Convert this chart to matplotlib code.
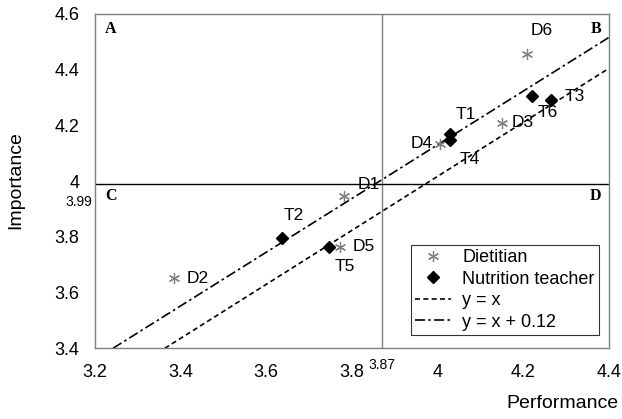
import matplotlib.pyplot as plt

plt.rcParams['font.family'] = ['Liberation Sans', 'DejaVu Sans']

# Dietitian ratings (performance, importance)
diet_labels = ['D1', 'D2', 'D3', 'D4', 'D5', 'D6']
diet_perf = [3.782, 3.385, 4.151, 4.005, 3.772, 4.208]
diet_imp = [3.948, 3.652, 4.210, 4.135, 3.764, 4.456]

# Nutrition teacher ratings
teach_labels = ['T1', 'T2', 'T3', 'T4', 'T5', 'T6']
teach_perf = [4.030, 3.636, 4.264, 4.030, 3.747, 4.221]
teach_imp = [4.171, 3.796, 4.293, 4.146, 3.764, 4.305]

# reference lines as drawn in the original (end points)
line_x_x = [3.363, 4.4]
line_x_y = [3.4, 4.405]
line_c_x = [3.242, 4.4]
line_c_y = [3.4, 4.516]

mean_perf = 3.87
mean_imp = 3.99

# label offsets in points
diet_off = {'D1': (18, 8), 'D2': (17, 0), 'D3': (15, 0), 'D4': (-13, 0),
            'D5': (17, 0), 'D6': (11, 17)}
teach_off = {'T1': (11, 14), 'T2': (9, 16), 'T3': (17, 2), 'T4': (14, -14),
             'T5': (11, -14), 'T6': (11, -12)}

fig = plt.figure(figsize=(6.22, 4.19), dpi=100)
ax = fig.add_axes([0.1527, 0.1687, 0.8263, 0.7979])

ax.axvline(mean_perf, color='#808080', lw=1.0, zorder=1)
ax.axhline(mean_imp, color='black', lw=1.0, zorder=1)

ax.plot(line_x_x, line_x_y, color='black', ls=(0, (3, 2)), lw=1.2, label='y = x')
ax.plot(line_c_x, line_c_y, color='black', ls=(0, (6, 2, 1.5, 2)), lw=1.2,
        label='y = x + 0.12')

d = ax.plot(diet_perf, diet_imp, ls='none', marker=(6, 2, 0), ms=8, mew=0.9,
            color='#808080', label='Dietitian', zorder=3)[0]
t = ax.plot(teach_perf, teach_imp, ls='none', marker='D', ms=6,
            color='black', label='Nutrition teacher', zorder=3)[0]

for lab, x, y in zip(diet_labels, diet_perf, diet_imp):
    ax.annotate(lab, (x, y), xytext=diet_off[lab], textcoords='offset points',
                ha='center', va='center', fontsize=12.5)
for lab, x, y in zip(teach_labels, teach_perf, teach_imp):
    ax.annotate(lab, (x, y), xytext=teach_off[lab], textcoords='offset points',
                ha='center', va='center', fontsize=12.5)

ax.set_xlim(3.2, 4.4)
ax.set_ylim(3.4, 4.6)
ax.set_xticks([3.2, 3.4, 3.6, 3.8, 4.0, 4.2, 4.4])
ax.set_xticklabels(['3.2', '3.4', '3.6', '3.8', '4', '4.2', '4.4'])
ax.set_yticks([3.4, 3.6, 3.8, 4.0, 4.2, 4.4, 4.6])
ax.set_yticklabels(['3.4', '3.6', '3.8', '4', '4.2', '4.4', '4.6'])
ax.tick_params(length=0, labelsize=13)
ax.tick_params(axis='x', pad=11)
ax.tick_params(axis='y', pad=11)
for s in ax.spines.values():
    s.set_color('#808080')
    s.set_linewidth(1.0)

# mean labels
ax.text(mean_perf, -0.028, '3.87', transform=ax.get_xaxis_transform(),
        ha='center', va='top', fontsize=10)
ax.annotate('3.99', (0, mean_imp), xycoords=ax.get_yaxis_transform(),
            xytext=(-2, -13), textcoords='offset points',
            ha='right', va='center', fontsize=10)

# quadrant letters
qfont = dict(family='Liberation Serif', fontweight='bold', fontsize=11.5)
ax.text(0.02, 0.955, 'A', transform=ax.transAxes, ha='left', va='center', **qfont)
ax.text(0.985, 0.955, 'B', transform=ax.transAxes, ha='right', va='center', **qfont)
ax.text(0.02, 0.455, 'C', transform=ax.transAxes, ha='left', va='center', **qfont)
ax.text(0.985, 0.455, 'D', transform=ax.transAxes, ha='right', va='center', **qfont)

fig.text(0.026, 0.57, 'Importance', rotation=90, ha='center', va='center', fontsize=14)
fig.text(0.904, 0.038, 'Performance', ha='center', va='center', fontsize=14)

leg = ax.legend(handles=[d, t] + ax.lines[2:4], loc='lower right',
                bbox_to_anchor=(0.981, 0.039), fontsize=13, frameon=True,
                fancybox=False, edgecolor='black', handlelength=2.0,
                handletextpad=0.6, borderpad=0.25, labelspacing=0.25,
                borderaxespad=0)
leg.get_frame().set_linewidth(0.8)

fig.savefig('out.png', dpi=100)
